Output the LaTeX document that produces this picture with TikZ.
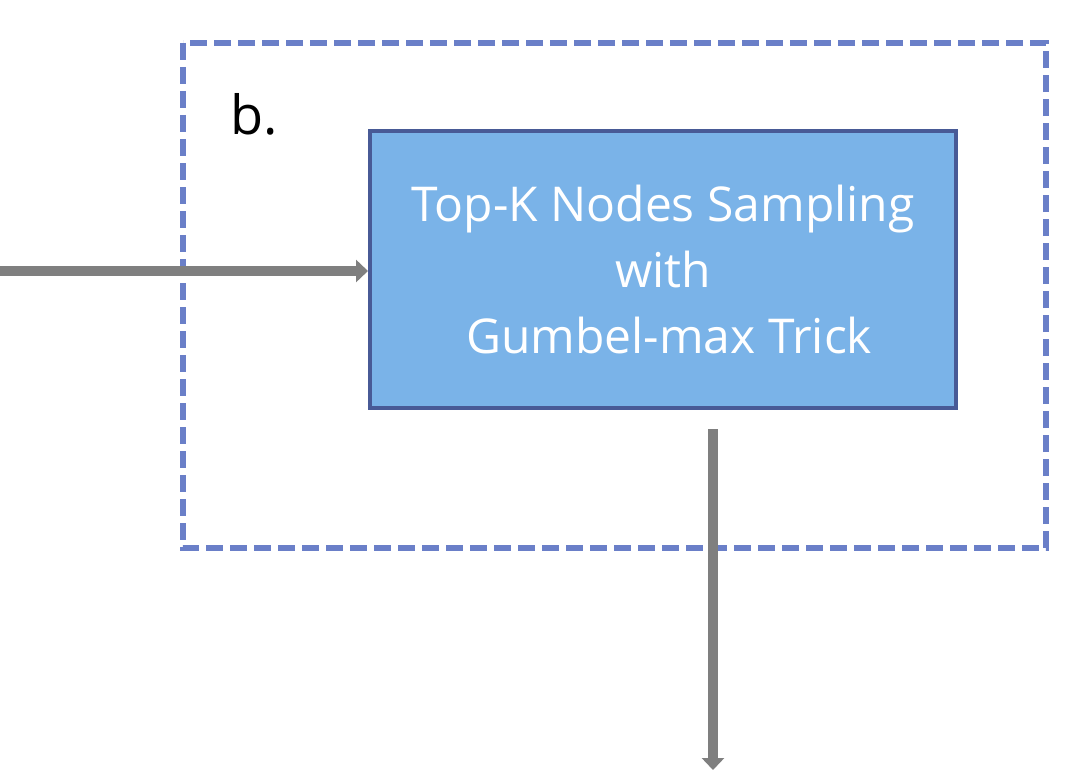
\documentclass[tikz,border=0pt]{standalone}
\usepackage{fontspec}
\setmainfont{Open Sans}
\usepackage{xcolor}
\usetikzlibrary{arrows.meta}

\definecolor{dashblue}{HTML}{6A7FC8}
\definecolor{boxfill}{HTML}{7AB3E8}
\definecolor{boxedge}{HTML}{485A96}
\definecolor{arrowgray}{HTML}{7F7F7F}

\tikzset{
  samplebox/.style={draw=boxedge,fill=boxfill,line width=4pt,minimum width=586pt,minimum height=277pt,inner sep=0pt,text=white,font=\fontsize{48}{66}\selectfont,align=center},
  flow/.style={draw=arrowgray,line width=10pt,-{Triangle[length=12pt,width=22pt]}}
}

\begin{document}
\begin{tikzpicture}[x=1pt,y=-1pt]
            \useasboundingbox (0,0) rectangle (1088,776);
            \draw[dashblue,line width=6pt,dash pattern=on 17pt off 7pt] (183,43) rectangle (1046,548);
            \node (lbl) at (254,114) [font=\fontsize{54}{60}\selectfont] {b.};
            \node (gumbel) at (663,269.5) [samplebox] {Top-K Nodes Sampling\\with\\\ Gumbel-max Trick};
            \coordinate (src) at (0,271);
            \coordinate (top) at (713,429);
            \coordinate (out) at (713,770);

            \draw[flow] (src) -- (src -| gumbel.west);
            \draw[flow] (top) -- (out);
        \end{tikzpicture}
\end{document}
